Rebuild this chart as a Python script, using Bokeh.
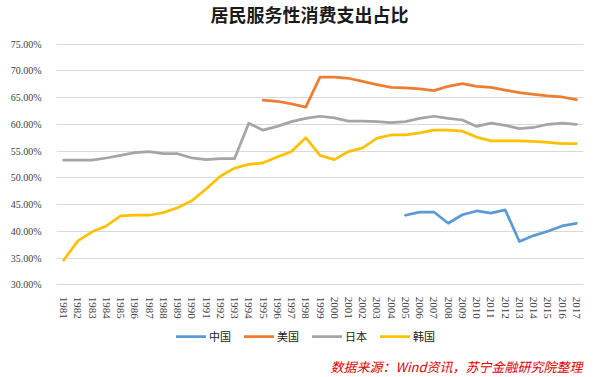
import math
import numpy as np
from bokeh.plotting import figure
from bokeh.models import FixedTicker, Label, PrintfTickFormatter, ColumnDataSource
from bokeh.embed import file_html
from bokeh.resources import INLINE

years = list(range(1981, 2018))
china = [None] * 24 + [43.0, 43.6, 43.6, 41.5, 43.1, 43.8, 43.4, 44.0, 38.1, 39.2, 40.0, 41.0, 41.5]
usa = [None] * 14 + [64.5, 64.3, 63.8, 63.2, 68.8, 68.8, 68.6, 68.0, 67.4, 66.9, 66.8, 66.6,
                     66.3, 67.1, 67.6, 67.1, 66.9, 66.4, 65.9, 65.6, 65.3, 65.1, 64.6]
japan = [53.3, 53.3, 53.3, 53.7, 54.2, 54.7, 54.9, 54.5, 54.5, 53.7,
         53.4, 53.6, 53.6, 60.2, 58.9, 59.6, 60.5, 61.1, 61.5, 61.2,
         60.6, 60.6, 60.5, 60.3, 60.5, 61.1, 61.5, 61.1, 60.8, 59.6,
         60.2, 59.8, 59.2, 59.4, 60.0, 60.2, 60.0]
korea = [34.6, 38.2, 39.9, 41.0, 42.9, 43.0, 43.0, 43.5, 44.4, 45.7,
         47.9, 50.3, 51.8, 52.5, 52.8, 53.9, 54.9, 57.5, 54.2, 53.4,
         54.9, 55.6, 57.4, 58.0, 58.0, 58.4, 58.9, 58.9, 58.7, 57.6,
         56.9, 56.9, 56.9, 56.8, 56.6, 56.4, 56.4]
series_names = ["中国", "美国", "日本", "韩国"]
series_colors = ["#5B9BD5", "#ED7D31", "#A5A5A5", "#FFC000"]
y_ticks = [30, 35, 40, 45, 50, 55, 60, 65, 70, 75]

title_text = "居民服务性消费支出占比"
source_text = "数据来源：Wind资讯，苏宁金融研究院整理"

# the frame fills the page vertically; gridlines/ticks only span 30%..75%,
# the x axis is pinned at the 30% line, and title/legend/source sit in the free space
p = figure(width=604, height=377, output_backend="svg", toolbar_location=None,
           x_range=(years[0] - 0.5, years[-1] + 0.5), y_range=(12.68, 83.13),
           min_border_left=56, min_border_right=21, min_border_top=0, min_border_bottom=0)
p.outline_line_color = None
p.background_fill_color = "white"
p.border_fill_color = "white"

src = ColumnDataSource(dict(
    year=years,
    china=np.array(china, dtype=float),
    usa=np.array(usa, dtype=float),
    japan=np.array(japan, dtype=float),
    korea=np.array(korea, dtype=float),
))
for key, name, col in zip(["china", "usa", "japan", "korea"], series_names, series_colors):
    p.line("year", key, source=src, line_color=col, line_width=2.75, legend_label=name,
           line_join="round", line_cap="round")

p.xaxis.ticker = FixedTicker(ticks=years)
p.xaxis.fixed_location = y_ticks[0]
p.xaxis.major_label_orientation = -math.pi / 2
p.yaxis.ticker = FixedTicker(ticks=y_ticks)
p.yaxis.formatter = PrintfTickFormatter(format="%.2f%%")
for ax in (p.xaxis[0], p.yaxis[0]):
    ax.major_tick_line_color = None
    ax.minor_tick_line_color = None
    ax.major_label_text_font = "Liberation Serif"
    ax.major_label_text_color = "#404040"
p.xaxis.major_label_text_font_size = "11px"
p.yaxis.major_label_text_font_size = "10px"
p.xaxis.major_label_standoff = 6
p.yaxis.major_label_standoff = 9
p.yaxis.axis_line_color = None
p.xaxis.axis_line_color = "#D9D9D9"
p.xgrid.grid_line_color = None
p.ygrid.grid_line_color = "#D9D9D9"
p.ygrid.ticker = FixedTicker(ticks=y_ticks)

leg = p.legend[0]
leg.orientation = "horizontal"
leg.location = (120, 33)
leg.border_line_color = None
leg.background_fill_alpha = 0
leg.label_text_font = "Noto Sans CJK SC"
leg.label_text_font_size = "11px"
leg.label_text_color = "#1a1a1a"
leg.glyph_width = 30
leg.glyph_height = 14
leg.label_standoff = 3
leg.spacing = 13
leg.margin = 0
leg.padding = 4

title_label = Label(x=253, y=364, x_units="screen", y_units="screen", text=title_text,
                    text_align="center", text_baseline="middle", text_color="#1a1a1a",
                    text_font="Noto Sans CJK SC", text_font_size="18px",
                    text_font_style="bold")
p.add_layout(title_label)

src_label = Label(x=526, y=11, x_units="screen", y_units="screen", text=source_text,
                  text_align="right", text_baseline="middle", text_color="#E00000",
                  text_font="Noto Sans CJK SC", text_font_size="13px",
                  text_font_style="italic")
p.add_layout(src_label)

open("out.html", "w").write(file_html(p, INLINE))
